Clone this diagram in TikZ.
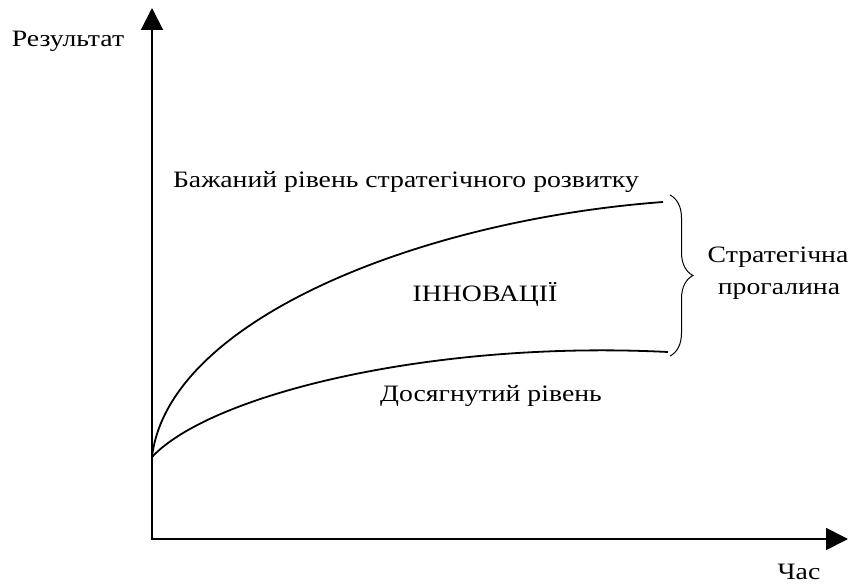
\documentclass[tikz,border=0pt]{standalone}
\usepackage{graphicx}
\usepackage{fontspec}
\setmainfont{Liberation Serif}
\usetikzlibrary{arrows.meta,decorations.pathreplacing}
\newcommand{\wtext}[1]{\scalebox{1.18}[1]{#1}}

\begin{document}
\begin{tikzpicture}[x=1pt,y=-1pt,
  axis/.style={line width=1.8pt,{Triangle[length=22pt,width=22pt]}-{Triangle[length=22pt,width=22pt]}},
  curve/.style={line width=1.8pt},
  lbl/.style={font=\fontsize{23.5}{28}\selectfont,inner sep=0pt,anchor=base}]
  \useasboundingbox (0,0) rectangle (849,585);
  \coordinate (o)  at (152,539);
  \coordinate (yt) at (152,8);
  \coordinate (xt) at (848,539);
  \coordinate (s)  at (152,457);
  \coordinate (up) at (663,202);
  \coordinate (lo) at (668,352);
  \coordinate (bt) at (670,195);
  \coordinate (bb) at (670,356);

  \node[lbl] (res)  at (68,47)   {\wtext{Результат}};
  \node[lbl] (time) at (799,579) {\wtext{Час}};
  \node[lbl] (want) at (406,188) {\wtext{Бажаний рівень стратегічного розвитку}};
  \node[lbl] (inn)  at (485,302) {\wtext{ІННОВАЦІЇ}};
  \node[lbl] (got)  at (491,402) {\wtext{Досягнутий рівень}};
  \node[lbl] (gap1) at (778,263) {\wtext{Стратегічна}};
  \node[lbl] (gap2) at (779,295) {\wtext{прогалина}};

  \draw[axis] (yt) -- (o) -- (xt);
  \draw[curve] (s) .. controls (168,320) and (420,220) .. (up);
  \draw[curve] (s) .. controls (210,395) and (430,340) .. (lo);
  \draw[line width=1pt,decorate,decoration={brace,amplitude=23pt}] (bt) -- (bb);
\end{tikzpicture}
\end{document}
